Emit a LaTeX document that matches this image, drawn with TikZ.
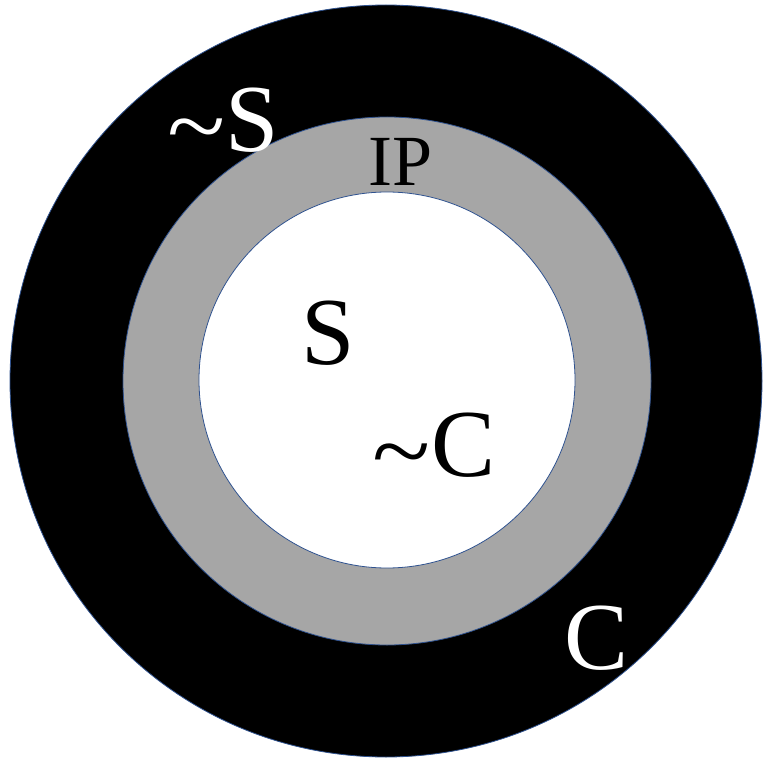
\documentclass[tikz,border=0pt]{standalone}
\usepackage{fontspec}
\setmainfont{Liberation Serif}
\definecolor{cRim}{RGB}{47,82,143}
\definecolor{cGrey}{RGB}{166,166,166}
\newcommand{\tld}{\scalebox{1.12}[1]{\raisebox{-0.075em}{\char`\~}}}
\tikzset{
	ring/.style={draw=cRim, line width=0.8pt},
	lbl/.style={inner sep=0pt, font=\fontsize{96}{110}\selectfont},
	lblsmall/.style={inner sep=0pt, font=\fontsize{72}{84}\selectfont},
}
\begin{document}
\begin{tikzpicture}[x=1pt, y=-1pt]
	\useasboundingbox (0,0) rectangle (763,762);
	% nested regions
	\filldraw[ring, fill=black] (386,381) circle (376);
	\filldraw[ring, fill=cGrey] (387,381) circle (264);
	\filldraw[ring, fill=white] (387,380) circle (188);
	% labels
	\node[lbl, text=white] (notS) at (223,123) {\tld S};
	\node[lblsmall] (ip) at (401,162) {IP};
	\node[lbl] (s) at (328,333) {S};
	\node[lbl] (notC) at (434,448) {\tld C};
	\node[lbl, text=white] (c) at (597,638) {C};
\end{tikzpicture}
\end{document}
